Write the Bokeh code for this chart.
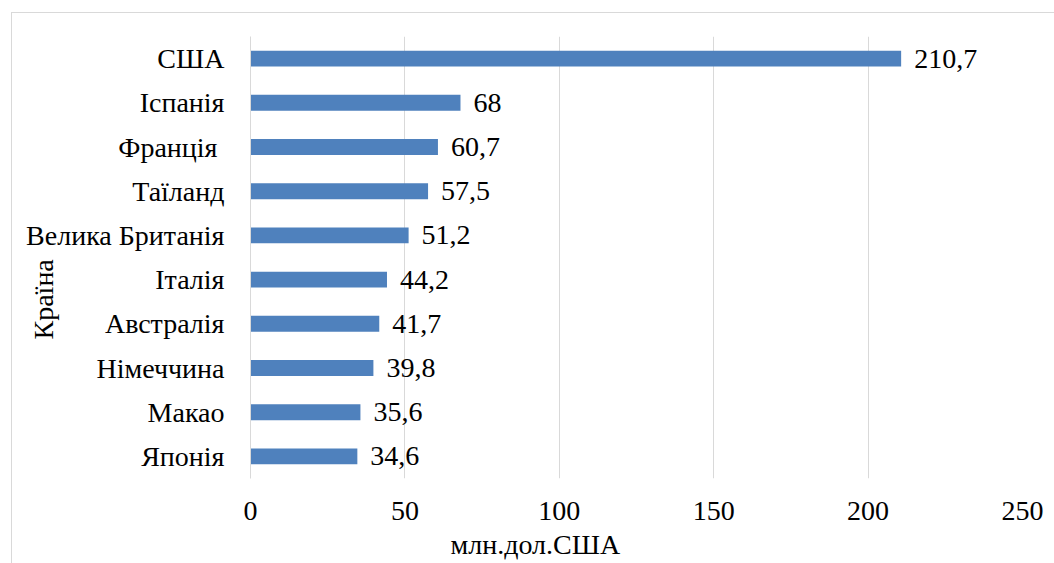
import math
from bokeh.plotting import figure
from bokeh.models import ColumnDataSource, FactorRange, Range1d, Title, FixedTicker, LabelSet
from bokeh.embed import file_html
from bokeh.resources import INLINE

countries = ["США", "Іспанія", "Франція ", "Таїланд", "Велика Британія", "Італія", "Австралія", "Німеччина", "Макао", "Японія"]
values = [210.7, 68, 60.7, 57.5, 51.2, 44.2, 41.7, 39.8, 35.6, 34.6]
value_labels = ["210,7", "68", "60,7", "57,5", "51,2", "44,2", "41,7", "39,8", "35,6", "34,6"]
x_ticks = [0, 50, 100, 150, 200, 250]

FONT = "Liberation Serif"
FS = "28px"
W, H = 1054, 563

src = ColumnDataSource(dict(country=countries, value=values, label=value_labels))

p = figure(width=W, height=H, output_backend="svg", toolbar_location=None,
           y_range=FactorRange(*list(reversed(countries)), range_padding=0),
           x_range=Range1d(0, 250))
p.min_border_left = 250
p.min_border_right = 32
p.min_border_top = 36
p.min_border_bottom = 85
p.outline_line_color = None
p.background_fill_color = "white"
p.border_fill_color = None
p.styles = {"box-shadow": "inset 11px 12px 0 0 white, inset 12px 13px 0 0 #d9d9d9"}

p.hbar(y="country", right="value", left=0, height=0.36, source=src,
       fill_color="#4F81BD", line_color=None)

p.add_layout(LabelSet(x="value", y="country", text="label", source=src,
                      x_offset=13, text_baseline="middle", text_align="left",
                      text_font=FONT, text_font_size=FS, text_color="black"))

p.xaxis.ticker = FixedTicker(ticks=x_ticks)
p.xaxis.axis_line_color = None
p.xaxis.major_tick_line_color = None
p.xaxis.major_tick_out = 0
p.xaxis.major_tick_in = 0
p.xaxis.minor_tick_line_color = None
p.xaxis.major_label_text_font = FONT
p.xaxis.major_label_text_font_size = FS
p.xaxis.major_label_text_color = "black"
p.xaxis.major_label_standoff = 23

p.yaxis.axis_line_color = "#d9d9d9"
p.yaxis.major_tick_line_color = None
p.yaxis.major_tick_out = 0
p.yaxis.major_tick_in = 0
p.yaxis.minor_tick_line_color = None
p.yaxis.major_label_text_font = FONT
p.yaxis.major_label_text_font_size = FS
p.yaxis.major_label_text_color = "black"
p.yaxis.major_label_standoff = 26

p.ygrid.grid_line_color = None
p.xgrid.grid_line_color = "#d9d9d9"
p.xgrid.grid_line_width = 1

p.add_layout(Title(text="млн.дол.США", align="left", offset=200, standoff=8,
                   text_font=FONT, text_font_size=FS,
                   text_font_style="normal", text_color="black"), "below")
p.add_layout(Title(text="Країна", align="left", offset=139, standoff=-70,
                   text_font=FONT, text_font_size=FS,
                   text_font_style="normal", text_color="black"), "left")

open("out.html", "w").write(file_html(p, INLINE))
